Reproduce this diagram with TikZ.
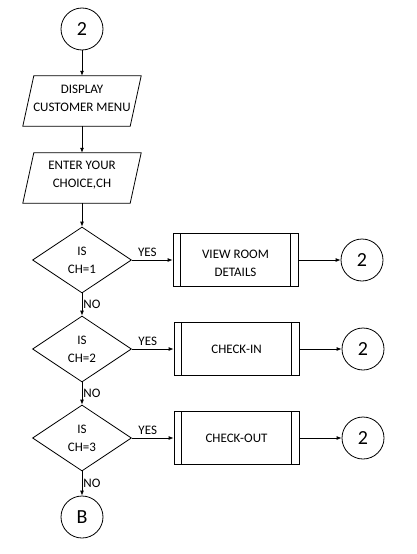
\documentclass[tikz,border=0pt]{standalone}
\usepackage{fontspec}
\setmainfont{Carlito}
\usetikzlibrary{shapes.geometric,arrows.meta}
\begin{document}
\begin{tikzpicture}[x=1pt,y=-1pt,
  every node/.style={font=\fontsize{13}{18}\selectfont},
  line/.style={line width=0.8pt},
  flow/.style={line,-{Latex[length=5pt,width=4pt]}},
  connector/.style={circle,draw,line,minimum size=42pt,inner sep=0pt,font=\fontsize{20}{24}\selectfont},
  iobox/.style={minimum width=118pt,minimum height=50pt,inner sep=0pt},
  iotext/.style={align=center,inner sep=0pt},
  decision/.style={diamond,draw,line,minimum width=99pt,minimum height=66pt,inner sep=0pt,align=center},
  subproc/.style={rectangle,draw,line,minimum width=125pt,minimum height=53pt,inner sep=0pt,align=center},
  lbl/.style={inner sep=1pt,font=\fontsize{13}{15}\selectfont}
]
\useasboundingbox (0,0) rectangle (416,554);
\fill[white] (0,0) rectangle (416,554);

% main column
\node[connector] (top) at (82,29) {2};
\node[iobox,label={[iotext,yshift=3pt]center:{DISPLAY\\CUSTOMER MENU}}] (disp) at (82,101) {};
\node[iobox,label={[iotext,yshift=2.5pt]center:{ENTER YOUR\\CHOICE,CH}}] (enter) at (82,178) {};
\foreach \p in {disp,enter}
  \draw[line] ([xshift=11pt]\p.north west) -- (\p.north east)
    -- ([xshift=-11pt]\p.south east) -- (\p.south west) -- cycle;

\node[decision] (d1) at (82,260) {IS\\CH=1};
\node[decision] (d2) at (82,349) {IS\\CH=2};
\node[decision] (d3) at (82,438) {IS\\CH=3};
\node[connector] (cB) at (82,517) {B};

% predefined processes
\node[subproc,label={[iotext,yshift=-3pt]center:{VIEW ROOM\\DETAILS}}] (b1) at (235.5,260) {};
\node[subproc] (b2) at (236.5,349) {CHECK-IN};
\node[subproc] (b3) at (236.5,438) {CHECK-OUT};
\foreach \b in {b1,b2,b3} {
  \draw[line] ([xshift=8pt]\b.north west) -- ([xshift=8pt]\b.south west);
  \draw[line] ([xshift=-8pt]\b.north east) -- ([xshift=-8pt]\b.south east);
}

% return connectors
\node[connector] (c1) at (362,260) {2};
\node[connector] (c2) at (363,349) {2};
\node[connector] (c3) at (363,438) {2};

% flow lines
\draw[flow] (top) -- (disp);
\draw[flow] (disp) -- (enter);
\draw[flow] (enter) -- (d1);
\draw[flow] (d1) -- node[lbl,right]{NO} (d2);
\draw[flow] (d2) -- node[lbl,right]{NO} (d3);
\draw[flow] (d3) -- node[lbl,right]{NO} (cB);
\foreach \i in {1,2,3} {
  \draw[flow] (d\i.east) -- node[lbl,above=3pt,pos=0.38,inner sep=0pt]{YES} (d\i.east -| b\i.west);
  \draw[flow] (b\i) -- (c\i);
}
\end{tikzpicture}
\end{document}
